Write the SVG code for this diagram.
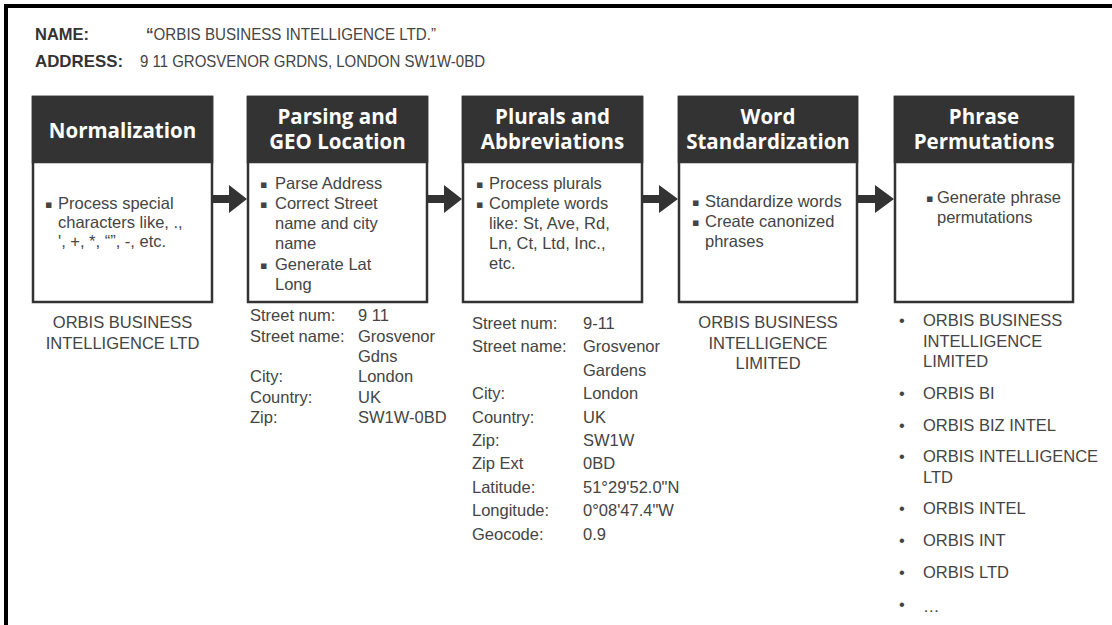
<svg xmlns="http://www.w3.org/2000/svg" width="1112" height="625" viewBox="0 0 1112 625">
<defs>
<style>
.frame{fill:none;stroke:#000;stroke-width:4}
.box{fill:#fff;stroke:#333;stroke-width:2.5}
.hdr{fill:#333;stroke:#333;stroke-width:2.5}
.ht{font-family:"Open Sans","Liberation Sans",sans-serif;font-weight:700;font-size:20.5px;fill:#fff;text-anchor:middle}
.bt{font-family:"Liberation Sans",Arial,sans-serif;font-size:16.5px;fill:#444}
.sq{font-family:"DejaVu Sans",sans-serif;font-size:11px;fill:#444}
.lab{font-family:"Liberation Sans",Arial,sans-serif;font-size:17px;font-weight:700;fill:#333}
.val{font-family:"Liberation Sans",Arial,sans-serif;font-size:17px;fill:#444}
.mid{text-anchor:middle}
.arrow{fill:#333}
</style>
</defs>
<rect width="1112" height="625" fill="#fff"/>
<path class="frame" d="M6 625 V6 H1112"/>

<g id="header-info">
<text class="lab" x="35" y="40" textLength="54" lengthAdjust="spacingAndGlyphs">NAME:</text>
<text class="val" x="146" y="40" textLength="290" lengthAdjust="spacingAndGlyphs"><tspan font-weight="700">“</tspan>ORBIS BUSINESS INTELLIGENCE LTD.”</text>
<text class="lab" x="35" y="67" textLength="88" lengthAdjust="spacingAndGlyphs">ADDRESS:</text>
<text class="val" x="140" y="67" textLength="345" lengthAdjust="spacingAndGlyphs">9 11 GROSVENOR GRDNS, LONDON SW1W-0BD</text>
</g>

<g id="connectors">
<path class="arrow" d="M212 195 H229 V185 L247 199 L229 213 V203 H212 Z"/>
<path class="arrow" d="M427 195 H444 V185 L462 199 L444 213 V203 H427 Z"/>
<path class="arrow" d="M642 195 H659 V185 L678 199 L659 213 V203 H642 Z"/>
<path class="arrow" d="M857 195 H875 V185 L894 199 L875 213 V203 H857 Z"/>
</g>

<g id="normalization">
<rect class="box" x="33" y="97" width="179" height="205"/>
<rect class="hdr" x="33" y="97" width="179" height="65"/>
<text class="ht" x="122.5" y="138">Normalization</text>
<text class="sq" x="45" y="208">▪</text>
<text class="bt" x="58" y="209">Process special</text>
<text class="bt" x="58" y="228">characters like, .,</text>
<text class="bt" x="58" y="246.5">', +, *, “”, -, etc.</text>
<text class="bt mid" x="122.5" y="328">ORBIS BUSINESS</text>
<text class="bt mid" x="122.5" y="349">INTELLIGENCE LTD</text>
</g>

<g id="parsing-geo">
<rect class="box" x="248" y="97" width="179" height="205"/>
<rect class="hdr" x="248" y="97" width="179" height="65"/>
<text class="ht" x="337.5" y="124">Parsing and<tspan x="337.5" dy="25">GEO Location</tspan></text>
<text class="sq" x="260" y="188">▪</text>
<text class="bt" x="275" y="189">Parse Address</text>
<text class="sq" x="260" y="208">▪</text>
<text class="bt" x="275" y="209">Correct Street</text>
<text class="bt" x="275" y="229">name and city</text>
<text class="bt" x="275" y="249">name</text>
<text class="sq" x="260" y="269">▪</text>
<text class="bt" x="275" y="270">Generate Lat</text>
<text class="bt" x="275" y="290">Long</text>
<text class="bt" x="250" y="321">Street num:</text><text class="bt" x="358" y="321">9 11</text>
<text class="bt" x="250" y="341.5">Street name:</text><text class="bt" x="358" y="341.5">Grosvenor</text>
<text class="bt" x="358" y="362">Gdns</text>
<text class="bt" x="250" y="382">City:</text><text class="bt" x="358" y="382">London</text>
<text class="bt" x="250" y="402.5">Country:</text><text class="bt" x="358" y="402.5">UK</text>
<text class="bt" x="250" y="423">Zip:</text><text class="bt" x="358" y="423">SW1W-0BD</text>
</g>

<g id="plurals-abbreviations">
<rect class="box" x="463" y="97" width="179" height="205"/>
<rect class="hdr" x="463" y="97" width="179" height="65"/>
<text class="ht" x="552.5" y="124">Plurals and<tspan x="552.5" dy="25">Abbreviations</tspan></text>
<text class="sq" x="476" y="188">▪</text>
<text class="bt" x="489" y="189">Process plurals</text>
<text class="sq" x="476" y="208">▪</text>
<text class="bt" x="489" y="209">Complete words</text>
<text class="bt" x="489" y="229">like: St, Ave, Rd,</text>
<text class="bt" x="489" y="249">Ln, Ct, Ltd, Inc.,</text>
<text class="bt" x="489" y="269">etc.</text>
<text class="bt" x="472" y="329">Street num:</text><text class="bt" x="583" y="329">9-11</text>
<text class="bt" x="472" y="352.4">Street name:</text><text class="bt" x="583" y="352.4">Grosvenor</text>
<text class="bt" x="583" y="375.8">Gardens</text>
<text class="bt" x="472" y="399.2">City:</text><text class="bt" x="583" y="399.2">London</text>
<text class="bt" x="472" y="422.6">Country:</text><text class="bt" x="583" y="422.6">UK</text>
<text class="bt" x="472" y="446">Zip:</text><text class="bt" x="583" y="446">SW1W</text>
<text class="bt" x="472" y="469.4">Zip Ext</text><text class="bt" x="583" y="469.4">0BD</text>
<text class="bt" x="472" y="492.8">Latitude:</text><text class="bt" x="583" y="492.8">51°29'52.0"N</text>
<text class="bt" x="472" y="516.2">Longitude:</text><text class="bt" x="583" y="516.2">0°08'47.4"W</text>
<text class="bt" x="472" y="539.6">Geocode:</text><text class="bt" x="583" y="539.6">0.9</text>
</g>

<g id="word-standardization">
<rect class="box" x="679" y="97" width="178" height="205"/>
<rect class="hdr" x="679" y="97" width="178" height="65"/>
<text class="ht" x="768" y="124">Word<tspan x="768" dy="25">Standardization</tspan></text>
<text class="sq" x="692" y="206">▪</text>
<text class="bt" x="705" y="207">Standardize words</text>
<text class="sq" x="692" y="226">▪</text>
<text class="bt" x="705" y="227">Create canonized</text>
<text class="bt" x="705" y="247">phrases</text>
<text class="bt mid" x="768" y="328">ORBIS BUSINESS</text>
<text class="bt mid" x="768" y="349">INTELLIGENCE</text>
<text class="bt mid" x="768" y="369">LIMITED</text>
</g>

<g id="phrase-permutations">
<rect class="box" x="895" y="97" width="178" height="205"/>
<rect class="hdr" x="895" y="97" width="178" height="65"/>
<text class="ht" x="984" y="124">Phrase<tspan x="984" dy="25">Permutations</tspan></text>
<text class="sq" x="926" y="202">▪</text>
<text class="bt" x="937" y="203">Generate phrase</text>
<text class="bt" x="937" y="223">permutations</text>
<text class="bt" x="899" y="326">•</text><text class="bt" x="923" y="326">ORBIS BUSINESS</text>
<text class="bt" x="923" y="347">INTELLIGENCE</text>
<text class="bt" x="923" y="367">LIMITED</text>
<text class="bt" x="899" y="399">•</text><text class="bt" x="923" y="399">ORBIS BI</text>
<text class="bt" x="899" y="431">•</text><text class="bt" x="923" y="431">ORBIS BIZ INTEL</text>
<text class="bt" x="899" y="462">•</text><text class="bt" x="923" y="462">ORBIS INTELLIGENCE</text>
<text class="bt" x="923" y="483">LTD</text>
<text class="bt" x="899" y="514">•</text><text class="bt" x="923" y="514">ORBIS INTEL</text>
<text class="bt" x="899" y="546">•</text><text class="bt" x="923" y="546">ORBIS INT</text>
<text class="bt" x="899" y="578">•</text><text class="bt" x="923" y="578">ORBIS LTD</text>
<text class="bt" x="899" y="610">•</text><text class="bt" x="923" y="612" font-size="10">…</text>
</g>
</svg>
